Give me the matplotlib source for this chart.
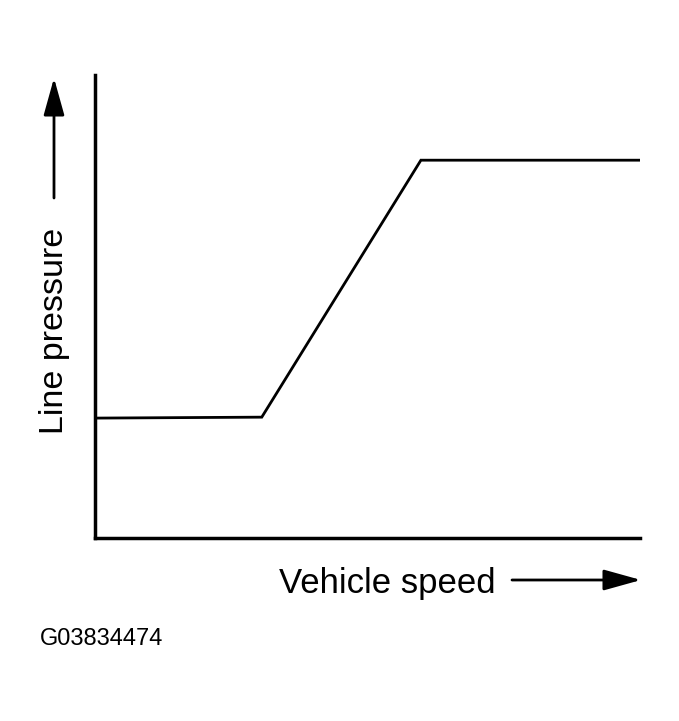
import matplotlib
matplotlib.use("Agg")
import matplotlib.pyplot as plt
from matplotlib.patches import FancyArrowPatch

# Data (relative units: speed 0-100, pressure 0-100)
speed = [0.5, 30.6, 59.8, 100.0]
pressure = [25.9, 26.1, 81.6, 81.6]
x_label = "Vehicle speed"
y_label = "Line pressure"
code_label = "G03834474"

W, H = 679, 721
fig = plt.figure(figsize=(W / 100, H / 100), dpi=100)
plt.rcParams['font.family'] = ['Liberation Sans', 'DejaVu Sans']

def fx(px):
    return px / W

def fy(py):
    return 1 - py / H

ax = fig.add_axes([fx(95), fy(538), fx(640) - fx(95), fy(75) - fy(538)])
ax.plot(speed, pressure, color='black', lw=2, solid_joinstyle='miter')
ax.set_xlim(0, 100)
ax.set_ylim(0, 100)
ax.set_xticks([])
ax.set_yticks([])
for s in ['top', 'right']:
    ax.spines[s].set_visible(False)
for s in ['left', 'bottom']:
    ax.spines[s].set_linewidth(2.5)
    ax.spines[s].set_color('black')

# Axis labels with arrows
fig.text(fx(387), fy(593), x_label, ha='center', va='baseline', fontsize=25, color='black')
fig.text(fx(54), fy(331), y_label, ha='center', va='center', rotation=90, fontsize=24.5, color='black')
fig.text(fx(40), fy(645), code_label, ha='left', va='baseline', fontsize=17, color='black')

style = '-|>,head_length=1.15,head_width=0.32'
fig.add_artist(FancyArrowPatch((fx(512), fy(580)), (fx(641), fy(580)), transform=fig.transFigure,
                               arrowstyle=style, mutation_scale=20, color='black', lw=2,
                               shrinkA=0, shrinkB=0))
fig.add_artist(FancyArrowPatch((fx(54), fy(198)), (fx(54), fy(78)), transform=fig.transFigure,
                               arrowstyle=style, mutation_scale=20, color='black', lw=2,
                               shrinkA=0, shrinkB=0))

fig.savefig("out.png", dpi=100, facecolor='white')
